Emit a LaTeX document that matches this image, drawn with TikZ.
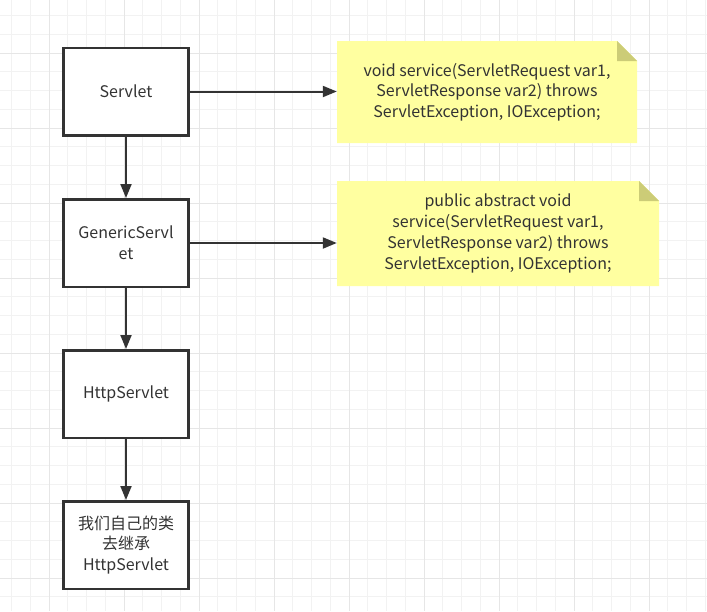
\documentclass[tikz,border=0pt]{standalone}
\usepackage{fontspec}
\setmainfont{Noto Sans CJK SC}
\usetikzlibrary{arrows.meta}

\definecolor{inkgray}{HTML}{333333}
\definecolor{notefill}{HTML}{FFFFA0}
\definecolor{notefold}{HTML}{CCCC77}
\definecolor{gridminor}{HTML}{F2F2F2}
\definecolor{gridmajor}{HTML}{E6E6E6}

\tikzset{
  classbox/.style={draw=inkgray, line width=2.5pt, fill=white, inner sep=0pt,
    minimum width=125pt, minimum height=87.5pt, align=center, text=inkgray,
    font=\fontsize{16}{20.7}\selectfont},
  notebox/.style={inner sep=0pt, align=center, text=inkgray,
    font=\fontsize{16}{20.7}\selectfont,
    path picture={
      \fill[notefill] (path picture bounding box.south west)
        -- (path picture bounding box.north west)
        -- ([xshift=-20pt]path picture bounding box.north east)
        -- ([yshift=-20pt]path picture bounding box.north east)
        -- (path picture bounding box.south east) -- cycle;
      \fill[notefold] ([xshift=-20pt]path picture bounding box.north east)
        -- ([xshift=-20pt,yshift=-20pt]path picture bounding box.north east)
        -- ([yshift=-20pt]path picture bounding box.north east) -- cycle;
    }},
  link/.style={draw=inkgray, line width=2pt, -{Triangle[length=14pt,width=11pt]}}
}

\begin{document}
\begin{tikzpicture}[x=1pt,y=-1pt]
  \useasboundingbox (0,0) rectangle (707,611);
  \fill[white] (0,0) rectangle (707,611);

  % grid
  \foreach \i in {0,...,37}
    \draw[gridminor, line width=1pt] ({11.5+18.75*\i},0) -- ({11.5+18.75*\i},611);
  \foreach \i in {0,...,31}
    \draw[gridminor, line width=1pt] (0,{15.5+18.75*\i}) -- (707,{15.5+18.75*\i});
  \foreach \i in {0,...,8}
    \draw[gridmajor, line width=1pt] ({49+75*\i},0) -- ({49+75*\i},611);
  \foreach \i in {0,...,7}
    \draw[gridmajor, line width=1pt] (0,{53+75*\i}) -- (707,{53+75*\i});

  % classes
  \node[classbox] (servlet) at (126,91.5) {Servlet};
  \node[classbox] (generic) at (126,243) {GenericServl\\et};
  \node[classbox] (http) at (126,394) {HttpServlet};
  \node[classbox] (mine) at (126,545) {我们自己的类\\去继承\\HttpServlet};

  % notes
  \node[notebox, minimum width=300pt, minimum height=102pt] (note1) at (487,92)
    {void service(ServletRequest var1,\\ServletResponse var2) throws\\ServletException, IOException;};
  \node[notebox, minimum width=322pt, minimum height=105pt] (note2) at (498,233.5)
    {public abstract void\\service(ServletRequest var1,\\ServletResponse var2) throws\\ServletException, IOException;};

  \draw[link] (servlet) -- (generic);
  \draw[link] (generic) -- (http);
  \draw[link] (http) -- (mine);
  \draw[link] (servlet.east) -- (servlet.east -| note1.west);
  \draw[link] (generic.east) -- (generic.east -| note2.west);
\end{tikzpicture}
\end{document}
